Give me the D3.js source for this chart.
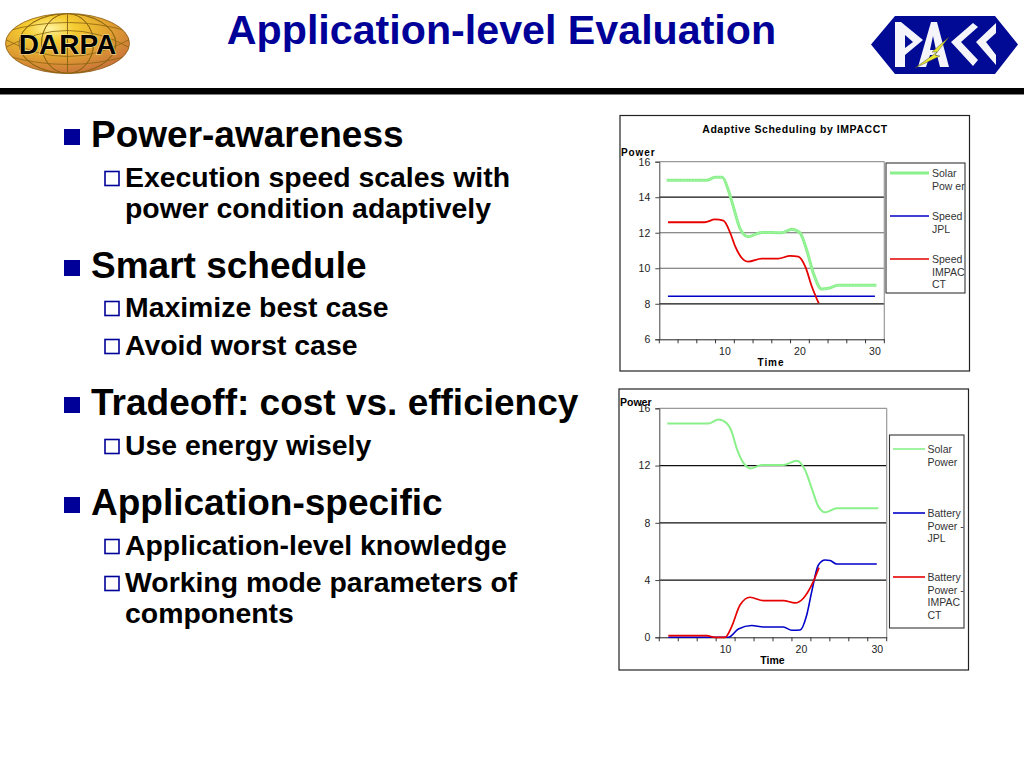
<!DOCTYPE html>
<html><head><meta charset="utf-8">
<script src="https://cdnjs.cloudflare.com/ajax/libs/d3/7.8.5/d3.min.js"></script>
<style>
html,body{margin:0;padding:0;background:#fff}
svg{display:block}
text{font-family:"Liberation Sans",Arial,sans-serif}
</style></head><body>
<svg id="s" width="1024" height="768" viewBox="0 0 1024 768"></svg>
<script>
// ---------- data ----------
const slideTitle = "Application-level Evaluation";
const bulletText = [
  [1, "Power-awareness", 147],
  [2, "Execution speed scales with", 187],
  [0, "power condition adaptively", 218],
  [1, "Smart schedule", 278],
  [2, "Maximize best case", 317],
  [2, "Avoid worst case", 355],
  [1, "Tradeoff: cost vs. efficiency", 415],
  [2, "Use energy wisely", 455],
  [1, "Application-specific", 515],
  [2, "Application-level knowledge", 555],
  [2, "Working mode parameters of", 592],
  [0, "components", 623]
];
const xCategories = [2.5,5,7.5,10,12.5,15,17.5,20,22.5,25,27.5,30];
const xTickLabels = [10,20,30];

const c1Title = "Adaptive Scheduling by IMPACCT";
const c1YTicks = [6,8,10,12,14,16];
const c1SolarT = [2.23,7.56,8.67,9.65,10.45,11.12,12.0,13.1,14.9,17.56,18.9,20,20.9,21.8,22.9,23.8,25.1,30.2];
const c1SolarV = [14.95,14.95,15.12,15.12,14.4,13.47,12.25,11.78,12.02,12,12.2,12,11.03,9.71,8.83,8.87,9.04,9.04];
const c1JplT = [2.4,30];
const c1JplV = [8.42,8.42];
const c1ImpT = [2.4,7.3,8.67,9.8,10.7,11.4,12.5,13.1,14.9,17.1,18.7,19.8,20.7,21.6,22.5];
const c1ImpV = [12.59,12.59,12.75,12.68,12.0,11.2,10.47,10.37,10.54,10.54,10.7,10.65,10.1,8.96,8.03];

const c2YTicks = [0,4,8,12,16];
const c2SolarT = [2.3,7.72,9.04,10.14,10.8,11.46,12.56,13.35,14.76,17.62,19.38,20.48,21.36,22.24,23.12,24.66,30.15];
const c2SolarV = [14.93,14.93,15.21,14.95,14.37,13.2,12.04,11.8,12.04,12.04,12.34,11.69,10.41,9.13,8.73,9.01,9.01];
const c2JplT = [2.44,9.48,10.36,11.68,13.44,14.98,17.62,18.72,19.82,20.7,21.36,22.24,23.12,23.78,24.66,29.94];
const c2JplV = [0,0,0,0.58,0.82,0.72,0.72,0.49,0.51,1.56,3.19,5.05,5.4,5.36,5.12,5.12];
const c2ImpT = [2.44,7.5,8.6,9.92,10.8,11.9,13.22,14.98,17.62,19.16,20.26,21.36,22.32];
const c2ImpV = [0.12,0.12,0,0,0.75,2.26,2.8,2.56,2.56,2.4,2.73,3.66,4.87];

const c1Legend = [["Solar","Pow er"],["Speed","JPL"],["Speed","IMPAC","CT"]];
const c2Legend = [["Solar","Power"],["Battery","Power -","JPL"],["Battery","Power -","IMPAC","CT"]];

// ---------- slide ----------
const BLUE="#000099", GREEN="#8af08a", LINE_BLUE="#0000c8", RED="#e60000";
const svg=d3.select("#s");
svg.append("text").attr("x",501.5).attr("y",44).attr("text-anchor","middle")
  .attr("font-size",41.2).attr("font-weight",700).attr("fill",BLUE).text(slideTitle);
svg.append("rect").attr("x",0).attr("y",88).attr("width",1024).attr("height",6.5).attr("fill","#000");

const bullets=svg.append("g");
bulletText.forEach(([lvl,t,y])=>{
  const big = lvl===1;
  bullets.append("text").attr("x",big?91:125).attr("y",y)
    .attr("font-size",big?37:28.4).attr("font-weight",700).attr("fill","#000").text(t);
  if(lvl===1) bullets.append("rect").attr("x",64).attr("y",y-18).attr("width",16).attr("height",16).attr("fill",BLUE);
  if(lvl===2) bullets.append("rect").attr("x",105).attr("y",y-15.5).attr("width",14).attr("height",14).attr("fill","#fff").attr("stroke",BLUE).attr("stroke-width",1.6);
});

// ---------- DARPA logo ----------
const defs=svg.append("defs");
const g1=defs.append("radialGradient").attr("id","gold").attr("cx","0.36").attr("cy","0.25").attr("r","0.8");
[[0,"#fff4a0"],[0.25,"#f5cc30"],[0.6,"#e0a030"],[1,"#c8703c"]].forEach(([o,c])=>g1.append("stop").attr("offset",o).attr("stop-color",c));
const dl=svg.append("g").attr("transform","translate(67.5,43.5)");
defs.append("clipPath").attr("id","ec").append("ellipse").attr("rx",62).attr("ry",30);
dl.append("ellipse").attr("rx",62).attr("ry",30).attr("fill","url(#gold)").attr("stroke","#8a5a10").attr("stroke-width",.8);
const gl=dl.append("g").attr("clip-path","url(#ec)").attr("fill","none").attr("stroke","#8a6412").attr("stroke-width",.8);
[-0.78,-0.42,0,0.42,0.78].forEach(k=>gl.append("ellipse").attr("rx",Math.abs(k)*62||.01).attr("ry",30));
[[-30,-12],[-30,4],[30,-4],[30,12]].forEach(([a,b])=>gl.append("path").attr("d",`M-62,${b} Q0,${a} 62,${b}`));
dl.append("text").attr("x",0).attr("y",10.5).attr("text-anchor","middle").attr("font-size",28).attr("font-weight",700).attr("fill","#000").attr("stroke","#f3e6a0").attr("stroke-width",1.2).attr("paint-order","stroke").text("DARPA");

// ---------- PACC logo ----------
const pl=svg.append("g");
pl.append("path").attr("d","M871,44.5 L895,16 L995,16 L1018,44.5 L995,74 L895,74 Z").attr("fill","#000a94");
pl.append("path").attr("fill","#f4f4fa").attr("fill-rule","evenodd").attr("d","M895,22 L901,22 L923,40 L905,55 L905,67 L895,67 Z M905,35 L905,48 L913,42 Z");
pl.append("path").attr("fill","#f4f4fa").attr("fill-rule","evenodd").attr("d","M931,22 L937,22 L949,67 L940,67 L937,55 L930,55 L926,67 L918,67 Z M933,36 L930,50 L936,50 Z");
pl.append("path").attr("fill","#f4f4fa").attr("d","M973,23 L978,27 L961,42 L978,60 L973,66 L951,42 Z");
pl.append("path").attr("fill","#f4f4fa").attr("d","M996,23 L996,33 L986,42 L996,55 L996,65 L976,42 Z");
pl.append("path").attr("fill","#e8e830").attr("stroke","#333").attr("stroke-width",.4).attr("d","M949,37 L932,52 L937,52 L915,68 L940,56 L935,55 Z");

// ---------- charts ----------
function chart(cfg){
  const g=svg.append("g");
  g.append("rect").attr("x",cfg.frame[0]+.5).attr("y",cfg.frame[1]+.5).attr("width",cfg.frame[2]-cfg.frame[0]).attr("height",cfg.frame[3]-cfg.frame[1])
    .attr("fill","#fff").attr("stroke","#222").attr("stroke-width",1.2);
  const [l,t,r,b]=cfg.plot;
  const band=d3.scaleBand().domain(xCategories).range([l,r]);
  const x=d3.scaleLinear().domain([1.25,31.25]).range([l,r]);
  const y=d3.scaleLinear().domain(cfg.yDomain).range([b,t]);

  g.selectAll(".g").data(cfg.yTicks.filter(v=>v!==cfg.yDomain[0])).join("line")
    .attr("x1",l).attr("x2",r).attr("y1",d=>y(d)).attr("y2",d=>y(d))
    .attr("stroke",d=>cfg.gridColor(d)).attr("stroke-width",1.2);
  g.append("line").attr("x1",r).attr("x2",r).attr("y1",t).attr("y2",b).attr("stroke","#999").attr("stroke-width",1.2);

  const ya=g.append("g").attr("transform",`translate(${l},0)`).call(d3.axisLeft(y).tickValues(cfg.yTicks).tickSize(4).tickPadding(5).tickFormat(d3.format("d")));
  ya.selectAll("text").attr("font-size",10.5).attr("fill","#222").style("font-family",'"Liberation Sans",Arial,sans-serif');
  ya.selectAll("path,line").attr("stroke","#444");
  const xa=g.append("g").attr("transform",`translate(0,${b})`).call(
    d3.axisBottom(band).tickSizeOuter(0).tickSize(0).tickPadding(8)
      .tickFormat(d=>xTickLabels.includes(d)?d:""));
  xa.selectAll("text").attr("font-size",10.5).attr("fill","#222").style("font-family",'"Liberation Sans",Arial,sans-serif');
  xa.select("path").attr("stroke","#222");
  g.selectAll(".xt").data(d3.range(xCategories.length+1)).join("line")
    .attr("x1",i=>l+i*band.step()).attr("x2",i=>l+i*band.step()).attr("y1",b).attr("y2",b+4).attr("stroke","#333");

  const line=d3.line().x(d=>x(d[0])).y(d=>y(d[1])).curve(d3.curveMonotoneX);
  cfg.series.forEach(s=>{
    const pts=d3.zip(s.t,s.v);
    g.append("path").attr("d",line(pts)).attr("fill","none").attr("stroke",s.color).attr("stroke-width",s.w).attr("stroke-linejoin","round");
    if(s.dots) g.append("path").attr("d",line(pts)).attr("fill","none").attr("stroke","#b4f6b4").attr("stroke-width",1).attr("stroke-dasharray","1.5 1.5");
  });

  g.append("text").attr("x",cfg.powerPos[0]).attr("y",cfg.powerPos[1]).attr("font-size",cfg.powerSize).attr("letter-spacing",cfg.powerLS).attr("font-weight",700).text("Power");
  g.append("text").attr("x",cfg.timePos[0]).attr("y",cfg.timePos[1]).attr("text-anchor","middle").attr("font-size",cfg.powerSize).attr("letter-spacing",cfg.powerLS).attr("font-weight",700).text("Time");
  if(cfg.title) g.append("text").attr("x",cfg.titlePos[0]).attr("y",cfg.titlePos[1]).attr("text-anchor","middle").attr("font-size",10.5).attr("letter-spacing",.55).attr("font-weight",700).text(cfg.title);

  const [ll,lt,lr,lb]=cfg.legend.box;
  g.append("rect").attr("x",ll).attr("y",lt).attr("width",lr-ll).attr("height",lb-lt).attr("fill","#fff").attr("stroke","#333").attr("stroke-width",1.1);
  cfg.legend.items.forEach((rows,i)=>{
    const y0=cfg.legend.ys[i];
    g.append("line").attr("x1",cfg.legend.lx[0]).attr("x2",cfg.legend.lx[1]).attr("y1",y0).attr("y2",y0).attr("stroke",cfg.series[i].color).attr("stroke-width",cfg.series[i].legendW);
    rows.forEach((txt,j)=>g.append("text").attr("x",cfg.legend.tx).attr("y",y0+4+j*cfg.legend.lh).attr("font-size",10.5).attr("fill","#333").text(txt));
  });
}

chart({
  frame:[619.5,115,969,370.5], plot:[659.3,161.7,884.3,339.3], yDomain:[6,16], yTicks:c1YTicks,
  gridColor:d=>d===16?"#999":(d===12||d===10?"#666":"#111"),
  powerPos:[621,155.5], timePos:[771,365.5], powerSize:10, powerLS:.9,
  title:c1Title, titlePos:[795,133],
  series:[
    {t:c1SolarT,v:c1SolarV,color:GREEN,w:3,legendW:3,dots:true},
    {t:c1JplT,v:c1JplV,color:LINE_BLUE,w:1.6,legendW:1.6},
    {t:c1ImpT,v:c1ImpV,color:RED,w:1.8,legendW:1.6}
  ],
  legend:{box:[886,163,965,293],items:c1Legend,ys:[173,216,259],lx:[890,929],tx:932,lh:12.5}
});
chart({
  frame:[618.5,388.5,968,669.5], plot:[659.3,408.3,886.7,637.3], yDomain:[0,16], yTicks:c2YTicks,
  gridColor:d=>d===16?"#999":"#111",
  powerPos:[620,405.5], timePos:[772.5,663.5], powerSize:10.5, powerLS:0,
  series:[
    {t:c2SolarT,v:c2SolarV,color:GREEN,w:2,legendW:1.6},
    {t:c2JplT,v:c2JplV,color:LINE_BLUE,w:1.6,legendW:1.6},
    {t:c2ImpT,v:c2ImpV,color:RED,w:1.7,legendW:1.6}
  ],
  legend:{box:[889.5,435,964,628],items:c2Legend,ys:[449,513,577],lx:[893,925],tx:927.5,lh:12.7}
});
</script>
</body></html>
